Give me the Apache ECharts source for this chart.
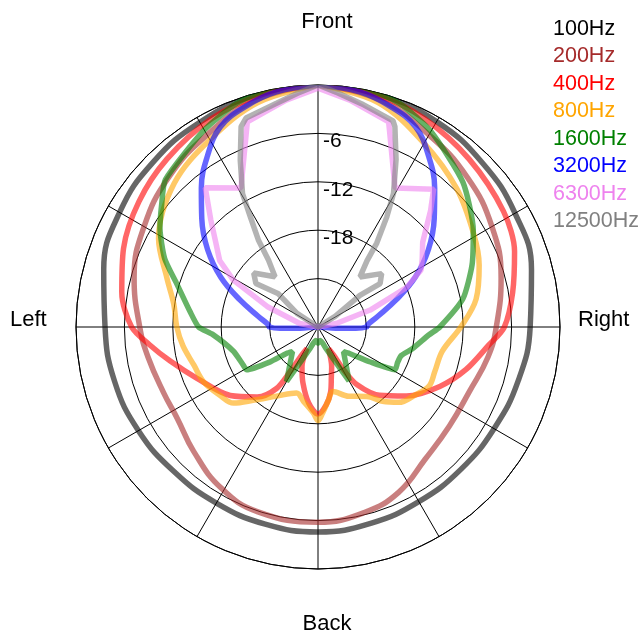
<!DOCTYPE html>
<html>
<head>
<meta charset="utf-8">
<script src="https://cdn.jsdelivr.net/npm/echarts@6/dist/echarts.min.js"></script>
<style>
html, body { margin: 0; padding: 0; background: #fff; }
#polarpattern { width: 641px; height: 634px; }
</style>
</head>
<body>
<div id="polarpattern"></div>
<script>
// [angle (deg, clockwise from front), level (dB)]
var hz100 = [[0,0],[15,-0.2],[30,-0.6],[45,-1.2],[60,-1.8],[75,-2.6],[90,-3.7],[105,-4.3],[120,-4.8],[135,-5.0],[150,-5.0],[165,-4.8],[180,-4.6],[195,-4.7],[210,-4.8],[225,-4.7],[240,-4.3],[255,-3.9],[270,-3.6],[285,-2.5],[300,-1.6],[315,-1.1],[330,-0.7],[345,-0.2],[360,0]];
var hz200 = [[0,0],[15,-0.8],[30,-2.5],[45,-3.8],[60,-5.1],[75,-6.5],[90,-7.9],[100,-8.6],[113,-9.6],[127,-9.6],[141,-8.9],[154,-7.2],[166,-6.3],[180,-5.8],[198,-5.9],[211,-6.7],[225,-8.2],[237,-9.2],[247,-9.2],[260,-8.6],[270,-7.9],[285,-6.4],[300,-5.1],[315,-3.8],[330,-2.5],[345,-0.8],[360,0]];
var hz400 = [[0,0],[15,-0.4],[27,-1.0],[42,-2.0],[58,-2.9],[69,-3.9],[80,-5.5],[90,-6.9],[96,-8.7],[106,-10.9],[116,-13.2],[128,-16.1],[138,-18.6],[146,-21.4],[149,-23.7],[151,-26],[154,-27],[161,-24.8],[165,-23.6],[169,-21.8],[174,-20.3],[180,-19.2],[187,-20.5],[195,-22.8],[202,-24.7],[207,-27],[210,-26],[212,-23.5],[214,-20.8],[221,-18.5],[232,-16.2],[247,-13.7],[257,-11.2],[264,-9.0],[270,-6.9],[280,-5.3],[292,-4.0],[305,-2.9],[318,-2.0],[333,-1.0],[346,-0.4],[360,0]];
var hz800 = [[0,0],[15,-1.2],[30,-3.7],[45,-5.7],[59,-7.5],[69,-8.6],[80,-10.1],[90,-12.3],[101,-14.3],[111,-14.5],[118,-14.4],[125,-15.3],[133,-16.3],[139,-17.8],[145,-19.5],[156,-20.6],[167,-21.8],[172,-20.8],[177,-19.3],[180,-18.4],[183,-19.3],[191,-20.6],[198,-21.4],[211,-20],[221,-18],[228,-15.9],[235,-15.2],[244,-14.3],[253,-13.9],[262,-13.1],[270,-12.5],[279,-11.9],[288,-10.3],[299,-7.4],[315,-4.8],[330,-3.2],[345,-1.2],[360,0]];
var hz1600 = [[0,0.3],[10,0.3],[20,-0.5],[30,-2.0],[45,-4.6],[58,-7.3],[68,-9.4],[79,-11.7],[90,-14.9],[94,-16.2],[103,-18],[109,-19.1],[114,-19.2],[119,-19.1],[124,-22.3],[130,-24.9],[134,-25.6],[150,-22.3],[160,-27.2],[170,-28.3],[180,-28],[190,-28.3],[200,-27.2],[210,-22.2],[226,-25.6],[230,-24.9],[234,-22.6],[239,-19.7],[243,-19.6],[254,-19.1],[266,-16.9],[270,-15.2],[277,-14],[287,-11.7],[294,-9.2],[302,-6.9],[308,-5.4],[314,-3.7],[330,-1.8],[340,-0.5],[350,0.3],[360,0.3]];
var hz3200 = [[0,0],[10,-0.4],[18,-1.2],[26,-2.4],[33,-4.8],[40,-7.5],[47,-10.3],[55,-13.3],[63,-16.5],[71,-19.8],[80,-22.5],[87,-23.8],[90,-24],[92,-25.3],[94,-27.8],[98,-30],[262,-30],[266,-27.8],[268,-25.3],[270,-24],[273,-23.8],[280,-22.5],[289,-19.8],[297,-16.5],[305,-13.3],[313,-10.3],[320,-7.5],[327,-4.8],[334,-2.4],[342,-1.2],[350,-0.4],[360,0]];
var hz6300 = [[0,-0.4],[8,-1.6],[19,-3.1],[29,-10.3],[40,-7.7],[44,-9.9],[51,-13.3],[57,-14.6],[61,-15.4],[66,-18],[72,-23.2],[79,-27.7],[85,-30],[275,-30],[281,-27.7],[292,-23.2],[299,-18],[304,-15.3],[310,-13.4],[315,-11.2],[321,-7.8],[331,-10.3],[341,-3.1],[352,-1.6],[360,-0.4]];
var hz12500 = [[0,0],[5,-0.9],[11,-1.8],[20,-2.8],[21,-3.4],[25,-7.1],[29.5,-11],[32,-13.9],[35,-17.3],[36.5,-19.8],[40,-21.9],[50,-19.7],[55,-20.6],[53,-23.5],[58,-27.5],[62,-30],[298,-30],[303,-26.9],[310,-23.6],[305,-20.6],[310,-19.6],[319.5,-21.8],[323.5,-19.7],[325.5,-17],[328.5,-13.9],[330.5,-11],[335,-7.2],[339,-3.4],[341,-2.6],[349.5,-1.8],[355,-0.9],[360,0]];

var freqNames = ['100Hz', '200Hz', '400Hz', '800Hz', '1600Hz', '3200Hz', '6300Hz', '12500Hz'];
var freqColors = ['#000000', '#a52a2a', '#ff0000', '#ffa500', '#008000', '#0000ff', '#ee82ee', '#808080'];
var ringLabels = [-6, -12, -18];
var sideLabels = ['Front', 'Right', 'Back', 'Left'];

function polarpattern() {
	var font = "'Liberation Sans', Arial, sans-serif";
	var curves = [hz100, hz200, hz400, hz800, hz1600, hz3200, hz6300, hz12500];
	// the two highest bands are plotted as straight segments in the original
	var smoothness = [0.45, 0.45, 0.3, 0.35, 0.2, 0.4, 0, 0];

	var series = curves.map(function (pts, i) {
		return {
			name: freqNames[i],
			type: 'line',
			coordinateSystem: 'polar',
			showSymbol: false,
			clip: false,
			silent: true,
			animation: false,
			smooth: smoothness[i],
			color: freqColors[i],
			lineStyle: { width: 5.5, color: freqColors[i], opacity: 0.6 },
			data: pts.map(function (p) { return [p[1], p[0]]; })
		};
	});

	var sidePos = [
		{ x: 327, y: 22, align: 'center' },
		{ x: 578, y: 320, align: 'left' },
		{ x: 327, y: 624, align: 'center' },
		{ x: 10, y: 320, align: 'left' }
	];
	var graphics = sideLabels.map(function (t, i) {
		return {
			type: 'text',
			x: sidePos[i].x,
			y: sidePos[i].y,
			style: {
				text: t,
				fill: '#000',
				font: '22px ' + font,
				textAlign: sidePos[i].align,
				textVerticalAlign: 'middle'
			}
		};
	});

	var option = {
		animation: false,
		textStyle: { fontFamily: font },
		polar: {
			center: [318, 327],
			radius: 242
		},
		angleAxis: {
			type: 'value',
			min: 0,
			max: 360,
			interval: 30,
			startAngle: 90,
			clockwise: true,
			axisLine: { show: true, lineStyle: { color: '#000', width: 1 } },
			axisTick: { show: false },
			axisLabel: { show: false },
			splitLine: { show: true, lineStyle: { color: '#000', width: 1 } }
		},
		radiusAxis: {
			type: 'value',
			min: -30,
			max: 0,
			interval: 6,
			axisLine: { show: false },
			axisTick: { show: false },
			axisLabel: {
				show: true,
				margin: -5,
				align: 'left',
				verticalAlign: 'top',
				lineHeight: 16,
				fontSize: 21,
				color: '#000',
				fontFamily: font,
				formatter: function (v) {
					return ringLabels.indexOf(v) >= 0 ? String(v) : '';
				}
			},
			splitLine: { show: true, lineStyle: { color: '#000', width: 1 } }
		},
		legend: {
			orient: 'vertical',
			left: 547,
			top: 18,
			padding: 0,
			itemGap: 5.5,
			itemWidth: 0,
			itemHeight: 0,
			selectedMode: false,
			itemStyle: { opacity: 0 },
			lineStyle: { opacity: 0 },
			textStyle: { fontSize: 21.5, fontFamily: font },
			data: freqNames.map(function (n, i) {
				return { name: n, textStyle: { color: freqColors[i] } };
			})
		},
		graphic: graphics,
		series: series
	};

	var el = document.getElementById('polarpattern');
	var chart = echarts.init(el);
	chart.setOption(option);
	window.addEventListener('resize', function () {
		chart.resize();
	});
}

polarpattern();
</script>
</body>
</html>
